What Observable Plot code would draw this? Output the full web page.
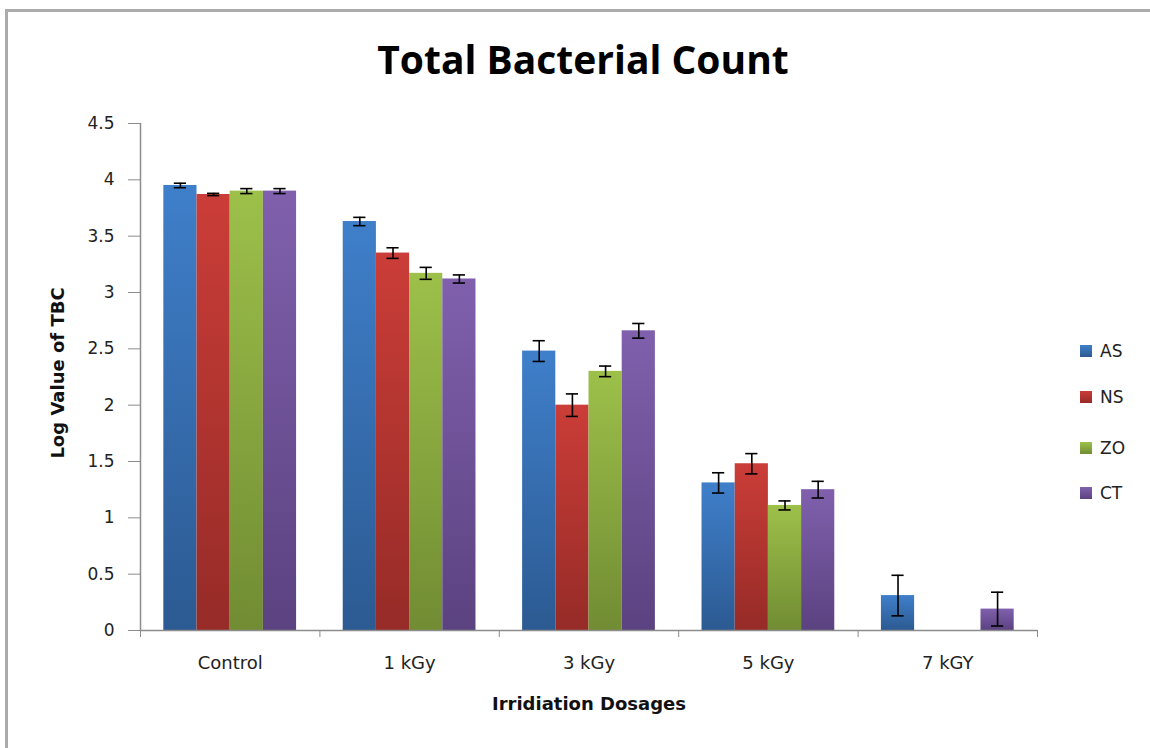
<!DOCTYPE html>
<html>
<head>
<meta charset="utf-8">
<script src="https://cdn.jsdelivr.net/npm/d3@7"></script>
<script src="https://cdn.jsdelivr.net/npm/@observablehq/plot@0.6"></script>
<style>
  body { margin: 0; background: #fff; }
  #wrap { position: relative; width: 1150px; height: 748px; overflow: hidden; background: #fff; font-family: "DejaVu Sans", sans-serif; }
  #border { position: absolute; left: 5px; top: 9px; right: -20px; bottom: -20px; border-left: 3px solid #ababab; border-top: 3px solid #ababab; }
  #title { position: absolute; left: 183px; width: 800px; top: 39px; text-align: center; font-family: "Open Sans", sans-serif; font-size: 39px; line-height: 39px; font-weight: bold; color: #000; }
  #chart { position: absolute; left: 0; top: 110px; }
  .leg { position: absolute; left: 1080px; height: 20px; display: flex; align-items: center; font-size: 17px; color: #222; }
  .leg span.sw { width: 12px; height: 12px; margin-right: 8px; display: inline-block; }
</style>
</head>
<body>
<div id="wrap">
  <div id="border"></div>
  <div id="title">Total Bacterial Count</div>
  <div id="chart"></div>
  <div id="legend"></div>
</div>
<script>
const categories = ["Control", "1 kGy", "3 kGy", "5 kGy", "7 kGY"];
const series = ["AS", "NS", "ZO", "CT"];
const AS = [3.95, 3.63, 2.48, 1.31, 0.31];
const NS = [3.87, 3.35, 2.00, 1.48, 0];
const ZO = [3.90, 3.17, 2.30, 1.11, 0];
const CT = [3.90, 3.12, 2.66, 1.25, 0.19];
const AS_err = [0.02, 0.037, 0.092, 0.09, 0.18];
const NS_err = [0.01, 0.047, 0.10, 0.09, 0];
const ZO_err = [0.022, 0.053, 0.047, 0.04, 0];
const CT_err = [0.022, 0.036, 0.065, 0.074, 0.15];
const yTicks = [0, 0.5, 1, 1.5, 2, 2.5, 3, 3.5, 4, 4.5];
const colorTop = ["#3f7fca", "#cb3d38", "#9dc04a", "#8060ad"];
const colorBottom = ["#2c5a92", "#962b27", "#718c33", "#5b4280"];

const values = {AS, NS, ZO, CT};
const errors = {AS: AS_err, NS: NS_err, ZO: ZO_err, CT: CT_err};

const rows = categories.flatMap((c, i) => series.map((s, j) => ({cat: c, ci: i, s, sj: j, v: values[s][i], e: errors[s][i]})));

const PAD = 0.13, W = 0.185, CAP = 0.034;
const left = d => d.ci + PAD + d.sj * W;
const center = d => d.ci + PAD + (d.sj + 0.5) * W;
const errRows = rows.filter(d => d.e > 0);

const defs = () => {
  const g = d3.create("svg:defs");
  series.forEach((s, j) => {
    const lg = g.append("linearGradient").attr("id", "g" + s).attr("x1", 0).attr("y1", 0).attr("x2", 0).attr("y2", 1);
    lg.append("stop").attr("offset", "0%").attr("stop-color", colorTop[j]);
    lg.append("stop").attr("offset", "100%").attr("stop-color", colorBottom[j]);
  });
  return g.node();
};

const gray = "#8c8c8c";
const plot = Plot.plot({
  width: 1150,
  height: 638,
  marginLeft: 140,
  marginRight: 113,
  marginTop: 13,
  marginBottom: 118,
  style: {fontFamily: "'DejaVu Sans', sans-serif", fontSize: "17px", color: "#222", background: "transparent"},
  x: {domain: [0, categories.length]},
  y: {domain: [0, 4.5]},
  color: {domain: series, range: series.map(s => `url(#g${s})`)},
  marks: [
    defs,
    Plot.rectY(rows, {x1: left, x2: d => left(d) + W, y1: 0, y2: "v", fill: "s"}),
    Plot.ruleX(errRows, {x: center, y1: d => d.v - d.e, y2: d => d.v + d.e, stroke: "#000", strokeWidth: 1.6}),
    Plot.ruleY(errRows, {y: d => d.v + d.e, x1: d => center(d) - CAP, x2: d => center(d) + CAP, stroke: "#000", strokeWidth: 1.6}),
    Plot.ruleY(errRows, {y: d => d.v - d.e, x1: d => center(d) - CAP, x2: d => center(d) + CAP, stroke: "#000", strokeWidth: 1.6}),
    Plot.axisY({ticks: yTicks, tickSize: 12, tickPadding: 14, tickFormat: d => String(d), label: null, stroke: gray, fontSize: 17}),
    Plot.axisX({ticks: d3.range(0, categories.length + 1), tickSize: 7, tickFormat: () => "", label: null, stroke: gray}),
    Plot.ruleX([0], {stroke: gray, strokeWidth: 1.5}),
    Plot.ruleY([0], {stroke: gray, strokeWidth: 1.5}),
    Plot.text(categories, {x: (d, i) => i + 0.5, frameAnchor: "bottom", dy: 38, fontSize: 18, fill: "#222"}),
    Plot.text(["Irridiation Dosages"], {frameAnchor: "bottom", dy: 79, fontSize: 18, fontWeight: "bold", fill: "#111"}),
    Plot.text(["Log Value of TBC"], {frameAnchor: "left", textAnchor: "middle", dx: -82, dy: -4, rotate: -90, fontSize: 18, fontWeight: "bold", fill: "#111"})
  ]
});
document.getElementById("chart").appendChild(plot);

const legendTops = [341, 387, 438, 483];
const legend = document.getElementById("legend");
series.forEach((s, j) => {
  const el = document.createElement("div");
  el.className = "leg";
  el.style.top = legendTops[j] + "px";
  el.innerHTML = `<span class="sw" style="background:linear-gradient(${colorTop[j]}, ${colorBottom[j]})"></span>${s}`;
  legend.appendChild(el);
});
</script>
</body>
</html>
